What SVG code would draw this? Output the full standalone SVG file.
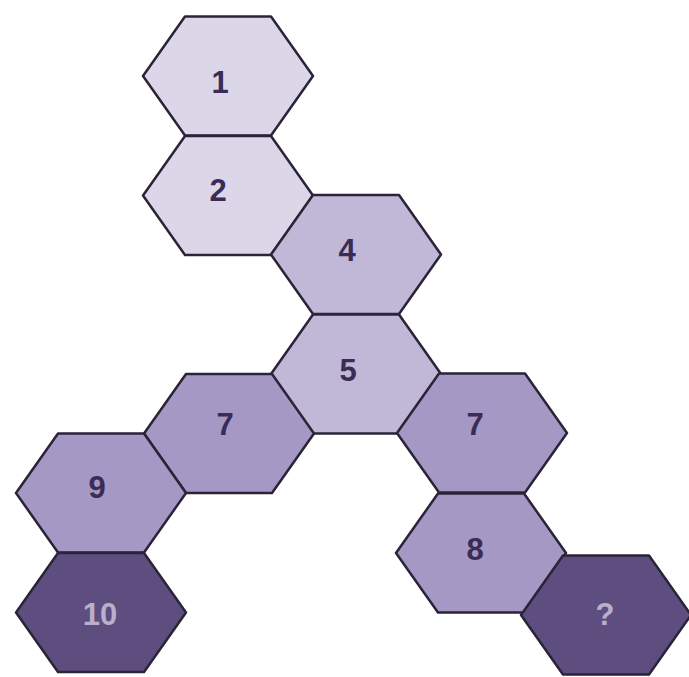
<svg xmlns="http://www.w3.org/2000/svg" width="689" height="677" viewBox="0 0 689 677">
<defs>
<polygon id="hex" points="-85,0 -43,-59.5 43,-59.5 85,0 43,59.5 -43,59.5"/>
</defs>
<style>
.h1{fill:#dcd6e9;stroke:#2b2438;stroke-width:2.5;stroke-linejoin:round}
.h2{fill:#c1b7d6;stroke:#2b2438;stroke-width:2.5;stroke-linejoin:round}
.h3{fill:#a698c4;stroke:#2b2438;stroke-width:2.5;stroke-linejoin:round}
.h4{fill:#5e4e80;stroke:#2b2438;stroke-width:2.5;stroke-linejoin:round}
.t{font-family:"Liberation Sans",Arial,sans-serif;font-weight:bold;font-size:31px;text-anchor:middle;fill:#3a2c55}
.tl{fill:#b9b0cb}
</style>
<rect width="689" height="677" fill="#ffffff"/>
<g id="connectors"></g>
<g id="n1"><use href="#hex" class="h1" x="228" y="76"/><text class="t" x="220" y="93">1</text></g>
<g id="n2"><use href="#hex" class="h1" x="228" y="195.5"/><text class="t" x="218" y="201">2</text></g>
<g id="n4"><use href="#hex" class="h2" x="356" y="254.5"/><text class="t" x="347" y="261">4</text></g>
<g id="n5"><use href="#hex" class="h2" x="356" y="374"/><text class="t" x="348" y="381">5</text></g>
<g id="n7a"><use href="#hex" class="h3" x="229" y="433.5"/><text class="t" x="225" y="435">7</text></g>
<g id="n9"><use href="#hex" class="h3" x="101" y="493"/><text class="t" x="97" y="498">9</text></g>
<g id="n10"><use href="#hex" class="h4" x="101" y="612.5"/><text class="t tl" x="100" y="625">10</text></g>
<g id="n7b"><use href="#hex" class="h3" x="482" y="433"/><text class="t" x="475" y="435">7</text></g>
<g id="n8"><use href="#hex" class="h3" x="481" y="553"/><text class="t" x="475" y="560">8</text></g>
<g id="nq"><use href="#hex" class="h4" x="606" y="615"/><text class="t tl" x="605" y="625">?</text></g>
</svg>
